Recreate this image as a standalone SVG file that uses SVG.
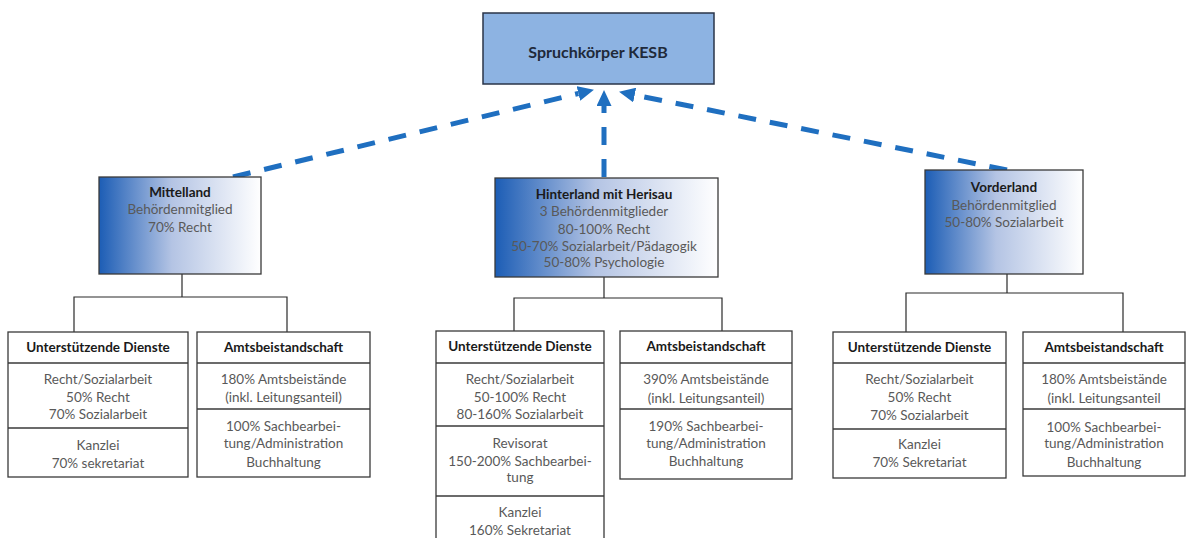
<svg xmlns="http://www.w3.org/2000/svg" width="1186" height="538" viewBox="0 0 1186 538">
<defs>
<linearGradient id="grad" x1="0" y1="0" x2="1" y2="0">
<stop offset="0" stop-color="#1c5db5"/>
<stop offset="0.45" stop-color="#b4c4e4"/>
<stop offset="1" stop-color="#ffffff"/>
</linearGradient>
<marker id="head" markerUnits="userSpaceOnUse" markerWidth="16" markerHeight="15" refX="0" refY="7.5" orient="auto">
<path d="M0,0 L16,7.5 L0,15 z" fill="#1f6fc0"/>
</marker>
<style>
.box{fill:#fff;stroke:#3a3a3a;stroke-width:1.3}
.gbox{fill:url(#grad);stroke:#3a3a3a;stroke-width:1.3}
.top{fill:#8db3e2;stroke:#2a3448;stroke-width:1.5}
.div{stroke:#3a3a3a;stroke-width:1.3}
.tree{fill:none;stroke:#2a2a2a;stroke-width:1.2}
.dash{fill:none;stroke:#1f6fc0;stroke-width:5;stroke-dasharray:18 14}
text{font-family:Lato,"Liberation Sans",sans-serif;font-size:13.5px;text-anchor:middle;fill:#595959}
.b{font-weight:bold;fill:#1a1a1a}
.t{font-weight:bold;font-size:16px;fill:#1f2a3a}
</style>
</defs>
<rect width="1186" height="538" fill="#fff"/>

<g id="connectors">
<path class="dash" d="M233,177 L578.4,93.5" marker-end="url(#head)"/>
<path class="dash" d="M604,177 L604,106" marker-end="url(#head)"/>
<path class="dash" d="M1007,170 L634.7,95" marker-end="url(#head)"/>
<path class="tree" d="M182,274 V297 M74,332 V297 H287 V332"/>
<path class="tree" d="M604,277 V298 M514,331 V298 H722 V331"/>
<path class="tree" d="M1007,274 V293 M906,332 V293 H1123 V332"/>
</g>

<g id="spruchkoerper">
<rect class="top" x="483" y="13" width="231" height="71"/>
<text class="t" x="598" y="58">Spruchkörper KESB</text>
</g>

<g id="mittelland">
<rect class="gbox" x="99" y="177" width="162" height="97"/>
<text class="b" x="180" y="197">Mittelland</text>
<text x="180" y="214">Behördenmitglied</text>
<text x="180" y="232">70% Recht</text>
</g>

<g id="hinterland">
<rect class="gbox" x="495" y="178" width="223" height="99"/>
<text class="b" x="604" y="199">Hinterland mit Herisau</text>
<text x="604" y="216">3 Behördenmitglieder</text>
<text x="604" y="234">80-100% Recht</text>
<text x="604" y="251">50-70% Sozialarbeit/Pädagogik</text>
<text x="604" y="267">50-80% Psychologie</text>
</g>

<g id="vorderland">
<rect class="gbox" x="925" y="170" width="158" height="104"/>
<text class="b" x="1004" y="192">Vorderland</text>
<text x="1004" y="210">Behördenmitglied</text>
<text x="1004" y="227">50-80% Sozialarbeit</text>
</g>

<g id="ud-mittelland">
<rect class="box" x="8" y="332" width="180" height="145"/>
<line class="div" x1="8" y1="363" x2="188" y2="363"/>
<line class="div" x1="8" y1="428" x2="188" y2="428"/>
<text class="b" x="98" y="352">Unterstützende Dienste</text>
<text x="98" y="384">Recht/Sozialarbeit</text>
<text x="98" y="402">50% Recht</text>
<text x="98" y="419">70% Sozialarbeit</text>
<text x="98" y="450">Kanzlei</text>
<text x="98" y="468">70% sekretariat</text>
</g>

<g id="ab-mittelland">
<rect class="box" x="197" y="332" width="173" height="145"/>
<line class="div" x1="197" y1="363" x2="370" y2="363"/>
<line class="div" x1="197" y1="409" x2="370" y2="409"/>
<text class="b" x="283.5" y="352">Amtsbeistandschaft</text>
<text x="283.5" y="384">180% Amtsbeistände</text>
<text x="283.5" y="402">(inkl. Leitungsanteil)</text>
<text x="283.5" y="431">100% Sachbearbei-</text>
<text x="283.5" y="448">tung/Administration</text>
<text x="283.5" y="467">Buchhaltung</text>
</g>

<g id="ud-hinterland">
<rect class="box" x="436" y="331" width="168" height="215"/>
<line class="div" x1="436" y1="363" x2="604" y2="363"/>
<line class="div" x1="436" y1="426" x2="604" y2="426"/>
<line class="div" x1="436" y1="496" x2="604" y2="496"/>
<text class="b" x="520" y="351">Unterstützende Dienste</text>
<text x="520" y="384">Recht/Sozialarbeit</text>
<text x="520" y="402">50-100% Recht</text>
<text x="520" y="419">80-160% Sozialarbeit</text>
<text x="520" y="448">Revisorat</text>
<text x="520" y="466">150-200% Sachbearbei-</text>
<text x="520" y="482">tung</text>
<text x="520" y="517">Kanzlei</text>
<text x="520" y="535">160% Sekretariat</text>
</g>

<g id="ab-hinterland">
<rect class="box" x="620" y="331" width="172" height="148"/>
<line class="div" x1="620" y1="363" x2="792" y2="363"/>
<line class="div" x1="620" y1="409" x2="792" y2="409"/>
<text class="b" x="706" y="351">Amtsbeistandschaft</text>
<text x="706" y="384">390% Amtsbeistände</text>
<text x="706" y="403">(inkl. Leitungsanteil)</text>
<text x="706" y="431">190% Sachbearbei-</text>
<text x="706" y="448">tung/Administration</text>
<text x="706" y="466">Buchhaltung</text>
</g>

<g id="ud-vorderland">
<rect class="box" x="833" y="332" width="173" height="146"/>
<line class="div" x1="833" y1="363" x2="1006" y2="363"/>
<line class="div" x1="833" y1="429" x2="1006" y2="429"/>
<text class="b" x="919.5" y="352">Unterstützende Dienste</text>
<text x="919.5" y="384">Recht/Sozialarbeit</text>
<text x="919.5" y="402">50% Recht</text>
<text x="919.5" y="420">70% Sozialarbeit</text>
<text x="919.5" y="449">Kanzlei</text>
<text x="919.5" y="467">70% Sekretariat</text>
</g>

<g id="ab-vorderland">
<rect class="box" x="1023" y="332" width="162" height="144"/>
<line class="div" x1="1023" y1="363" x2="1185" y2="363"/>
<line class="div" x1="1023" y1="409" x2="1185" y2="409"/>
<text class="b" x="1104" y="352">Amtsbeistandschaft</text>
<text x="1104" y="384">180% Amtsbeistände</text>
<text x="1104" y="403">(inkl. Leitungsanteil</text>
<text x="1104" y="432">100% Sachbearbei-</text>
<text x="1104" y="448">tung/Administration</text>
<text x="1104" y="467">Buchhaltung</text>
</g>
</svg>
